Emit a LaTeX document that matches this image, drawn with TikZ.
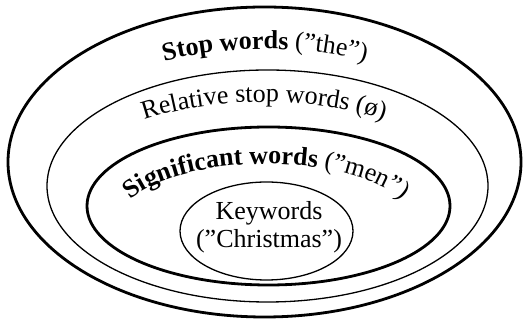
\documentclass[tikz,border=0pt]{standalone}
\usepackage{fontspec}
\setmainfont{Liberation Serif}
\usetikzlibrary{decorations.text,shapes.geometric}

\tikzset{
  thickring/.style={draw, ellipse, inner sep=0pt, line width=2.8pt},
  thinring/.style={draw, ellipse, inner sep=0pt, line width=1.3pt},
  arclabel/.style={decorate, decoration={text along path, text align=center, text={#1}}},
}
\newcommand{\lblfont}{\rmfamily\fontsize{26}{30}\selectfont}

\begin{document}
\begin{tikzpicture}[x=1pt, y=1pt]
  \useasboundingbox (0,0) rectangle (526,320);

  % nested classes of words, outermost first
  \node[thickring, minimum width=513pt, minimum height=310pt] (stop) at (264.5,158) {};
  \node[thinring,  minimum width=441pt, minimum height=232pt] (relstop) at (267.5,134) {};
  \node[thickring, minimum width=363pt, minimum height=158pt] (signif) at (268.5,114) {};
  \node[thinring,  minimum width=173pt, minimum height=98pt] (keyw) at (266.5,89) {};

  % keywords label
  \node[align=center, font=\lblfont, inner sep=0pt] (keywlbl) at (269,93)
    {Keywords\\[-2pt](”Christmas”)};

  % curved labels, each set on an elliptic arc inside its ring
  \coordinate (cstop) at (265,158);
  \coordinate (crel) at (264,134);
  \coordinate (csig) at (266,96);

  \path[arclabel={|\lblfont\bfseries|Stop words |\lblfont\mdseries|(”the”)}]
    ([shift={(150:222 and 113)}]cstop) arc[start angle=150, end angle=30, x radius=222, y radius=113];
  \path[arclabel={|\lblfont|Relative stop words (ø)}]
    ([shift={(160:194 and 84)}]crel) arc[start angle=160, end angle=20, x radius=194, y radius=84];
  \path[arclabel={|\lblfont\bfseries|Significant words |\lblfont\mdseries|(”men”)}]
    ([shift={(172:148 and 60)}]csig) arc[start angle=172, end angle=8, x radius=148, y radius=60];
\end{tikzpicture}
\end{document}
